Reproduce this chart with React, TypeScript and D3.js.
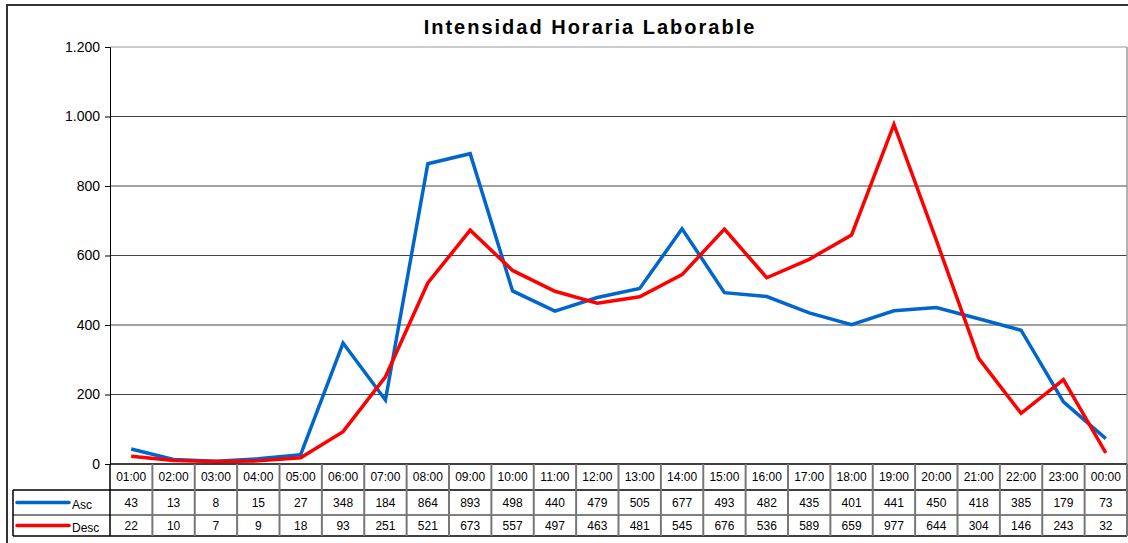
import React, { useEffect, useRef } from 'react';
import * as d3 from 'd3';

const hours = ['01:00', '02:00', '03:00', '04:00', '05:00', '06:00', '07:00', '08:00', '09:00', '10:00', '11:00', '12:00',
  '13:00', '14:00', '15:00', '16:00', '17:00', '18:00', '19:00', '20:00', '21:00', '22:00', '23:00', '00:00'];
const ascValues = [43, 13, 8, 15, 27, 348, 184, 864, 893, 498, 440, 479, 505, 677, 493, 482, 435, 401, 441, 450, 418, 385, 179, 73];
const descValues = [22, 10, 7, 9, 18, 93, 251, 521, 673, 557, 497, 463, 481, 545, 676, 536, 589, 659, 977, 644, 304, 146, 243, 32];
const yTicks = [0, 200, 400, 600, 800, 1000, 1200];
const seriesNames = ['Asc', 'Desc'];
const seriesColors = ['#0066cc', '#ff0000'];

const App: React.FC = () => {
  const svgRef = useRef<SVGSVGElement>(null);

  useEffect(() => {
    if (!svgRef.current) return;
    const width = 1128;
    const height = 543;
    const svg = d3.select(svgRef.current).attr('width', width).attr('height', height);
    svg.selectAll('*').remove();

    const font = 'Liberation Sans, Arial, sans-serif';
    const plot = { left: 110, right: 1127, top: 47, bottom: 464 };
    const tableLeft = 13;
    const rowHeader = 490;
    const rowAsc = 515;
    const rowDesc = 536;

    const x = d3.scaleBand().domain(hours).range([plot.left, plot.right]);
    const y = d3.scaleLinear().domain([0, 1200]).range([plot.bottom, plot.top]);

    // outer chart frame
    svg.append('rect')
      .attr('x', 7).attr('y', 5)
      .attr('width', width + 10).attr('height', height + 10)
      .attr('fill', '#fff')
      .attr('stroke', '#333').attr('stroke-width', 2);

    // title
    svg.append('text')
      .attr('x', 590).attr('y', 34)
      .attr('text-anchor', 'middle')
      .style('font-family', font)
      .style('font-size', '20px')
      .style('font-weight', 'bold')
      .style('letter-spacing', '2px')
      .text('Intensidad Horaria Laborable');

    // gridlines
    svg.append('g')
      .selectAll('line')
      .data(yTicks.filter(d => d > 0))
      .enter()
      .append('line')
      .attr('x1', plot.left).attr('x2', plot.right)
      .attr('y1', d => y(d)).attr('y2', d => y(d))
      .attr('stroke', d => d === 1200 ? '#999' : '#444')
      .attr('stroke-width', 1);

    // plot right border
    svg.append('line')
      .attr('x1', plot.right).attr('x2', plot.right)
      .attr('y1', plot.top).attr('y2', plot.bottom)
      .attr('stroke', '#999').attr('stroke-width', 1.5);

    // y axis
    const yAxis = svg.append('g')
      .attr('transform', `translate(${plot.left},0)`)
      .call(d3.axisLeft(y).tickValues(yTicks).tickSize(5).tickPadding(5)
        .tickFormat(d => d3.format(',')(d as number).replace(/,/g, '.')));
    yAxis.select('.domain').attr('stroke', '#000');
    yAxis.selectAll('.tick line').attr('stroke', '#000');
    yAxis.selectAll('text')
      .style('font-family', font)
      .style('font-size', '14px')
      .attr('fill', '#000');

    // series lines
    const seriesData = [ascValues, descValues];
    const line = d3.line<number>()
      .x((_, i) => x(hours[i])! + x.bandwidth() / 2)
      .y(d => y(d));

    seriesData.forEach((vals, i) => {
      svg.append('path')
        .datum(vals)
        .attr('d', line)
        .attr('fill', 'none')
        .attr('stroke', seriesColors[i])
        .attr('stroke-width', 3.5)
        .attr('stroke-linejoin', 'miter');
    });

    // data table
    const table = svg.append('g');
    const hLine = (x1: number, yy: number, color: string, w: number) =>
      table.append('line').attr('x1', x1).attr('x2', plot.right).attr('y1', yy).attr('y2', yy)
        .attr('stroke', color).attr('stroke-width', w);

    hLine(plot.left, plot.bottom, '#000', 1.5);
    hLine(tableLeft, rowHeader, '#000', 1.5);
    hLine(tableLeft, rowAsc, '#000', 1);
    hLine(tableLeft, rowDesc, '#000', 1.5);

    // vertical column borders
    const colEdges = hours.map(h => x(h)!).concat([plot.right]);
    table.selectAll('line.col')
      .data(colEdges)
      .enter()
      .append('line')
      .attr('class', 'col')
      .attr('x1', d => d).attr('x2', d => d)
      .attr('y1', plot.bottom).attr('y2', rowDesc)
      .attr('stroke', (d, i) => i === 0 ? '#000' : '#777')
      .attr('stroke-width', (d, i) => i === 0 ? 1.5 : 2);

    table.append('line')
      .attr('x1', tableLeft).attr('x2', tableLeft)
      .attr('y1', rowHeader).attr('y2', rowDesc)
      .attr('stroke', '#000').attr('stroke-width', 1.5);

    // header labels
    table.selectAll('text.hour')
      .data(hours)
      .enter()
      .append('text')
      .attr('class', 'hour')
      .attr('x', d => x(d)! + x.bandwidth() / 2)
      .attr('y', (plot.bottom + rowHeader) / 2 + 4)
      .attr('text-anchor', 'middle')
      .style('font-family', font)
      .style('font-size', '12px')
      .text(d => d);

    const rowTops = [rowHeader, rowAsc];
    const rowBottoms = [rowAsc, rowDesc];
    seriesData.forEach((vals, i) => {
      const cy = (rowTops[i] + rowBottoms[i]) / 2;
      table.append('g')
        .selectAll('text')
        .data(vals)
        .enter()
        .append('text')
        .attr('x', (_, j) => x(hours[j])! + x.bandwidth() / 2)
        .attr('y', cy + 4)
        .attr('text-anchor', 'middle')
        .style('font-family', font)
        .style('font-size', '12px')
        .text(d => d);

      // legend key
      table.append('line')
        .attr('x1', 17).attr('x2', 69)
        .attr('y1', cy).attr('y2', cy)
        .attr('stroke', seriesColors[i])
        .attr('stroke-width', 3.5)
        .attr('stroke-linecap', 'round');
      table.append('text')
        .attr('x', 72)
        .attr('y', cy + 6)
        .style('font-family', font)
        .style('font-size', '12px')
        .text(seriesNames[i]);
    });
  }, []);

  return (
    <div style={{ position: 'absolute', left: 0, top: 0 }}>
      <svg ref={svgRef} style={{ display: 'block' }} />
    </div>
  );
};

export default App;
